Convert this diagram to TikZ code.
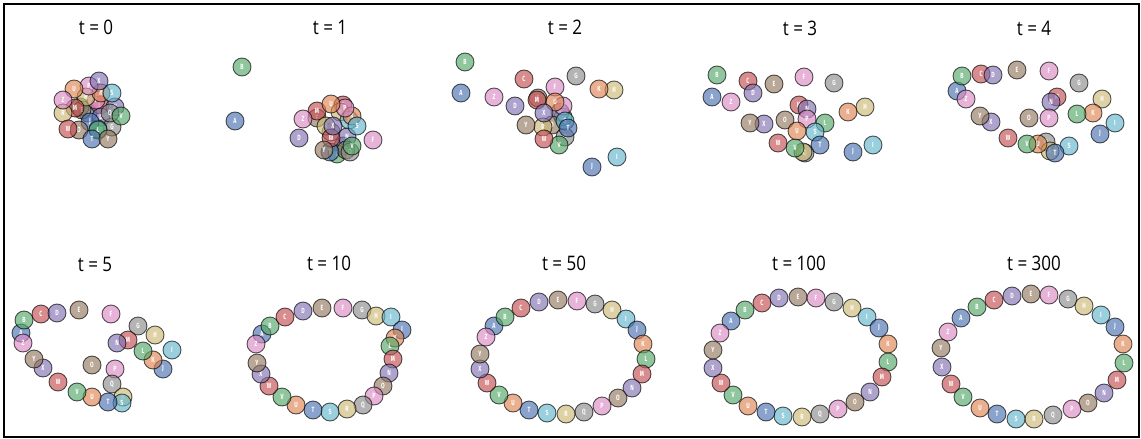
\documentclass[tikz,border=0pt]{standalone}
\usepackage{fontspec}
\setsansfont[FakeStretch=0.85]{Open Sans}
\newfontfamily\beadfont[FakeStretch=0.7]{Fira Sans}
\usepackage{xcolor}
\definecolor{dblue}{HTML}{4C72B0}
\definecolor{dorange}{HTML}{DD8452}
\definecolor{dgreen}{HTML}{55A868}
\definecolor{dred}{HTML}{C44E52}
\definecolor{dpurple}{HTML}{8172B2}
\definecolor{dbrown}{HTML}{937860}
\definecolor{dpink}{HTML}{DA8BC3}
\definecolor{dgray}{HTML}{8C8C8C}
\definecolor{dolive}{HTML}{CCB974}
\definecolor{dcyan}{HTML}{64B5CD}
\colorlet{cA}{dblue}\colorlet{cB}{dgreen}\colorlet{cC}{dred}\colorlet{cD}{dpurple}
\colorlet{cE}{dbrown}\colorlet{cF}{dpink}\colorlet{cG}{dgray}\colorlet{cH}{dolive}
\colorlet{cI}{dcyan}\colorlet{cJ}{dblue}\colorlet{cK}{dorange}\colorlet{cL}{dgreen}
\colorlet{cM}{dred}\colorlet{cN}{dpurple}\colorlet{cO}{dbrown}\colorlet{cP}{dpink}
\colorlet{cQ}{dgray}\colorlet{cR}{dolive}\colorlet{cS}{dcyan}\colorlet{cT}{dblue}
\colorlet{cU}{dorange}\colorlet{cV}{dgreen}\colorlet{cW}{dred}\colorlet{cX}{dpurple}
\colorlet{cY}{dbrown}\colorlet{cZ}{dpink}

\begin{document}
\begin{tikzpicture}[x=1pt,y=-1pt,
bead/.style={circle,draw=black,fill=c#1,opacity=0.65,text opacity=1,text=white,
 line width=0.9pt,minimum size=18pt,inner sep=0pt,
 font=\beadfont\bfseries\fontsize{7.5}{7.5}\selectfont},
stamp/.style={font=\sffamily\fontsize{20}{20}\selectfont,inner sep=0pt}]
\useasboundingbox (0,0) rectangle (1141,439);
\draw[line width=2pt] (4.3,4.3) rectangle (1138.8,436.7);
% t = 0
\node[stamp] (title0) at (96,27) {t = 0};
\foreach \l/\x/\y in {A/88/113,B/80/107,C/100/105,D/101/117,E/82/110,F/96/100,
 G/112/127,H/86/97,I/98/129,J/90/122,K/101/93,L/98/130,M/75/108,N/115/107,
 O/79/130,P/89/86,Q/110/113,R/63/113,S/112/93,T/92/139,U/74/89,V/121/116,
 W/68/129,X/99/81,Y/108/139,Z/63/100}
 \node[bead=\l] (t0\l) at (\x,\y) {\l};
% t = 1
\node[stamp] (title1) at (330,27) {t = 1};
\foreach \l/\x/\y in {A/235/121,B/242/67,C/343/105,D/299/138,E/317/118,F/373/140,
 G/331/132,H/340/112,I/349/120,J/343/146,K/352/116,L/337/154,M/317/111,N/347/137,
 O/346/150,P/345/108,Q/350/152,R/326/126,S/357/126,T/330/152,U/331/104,V/352/146,
 W/331/138,X/333/126,Y/324/150,Z/303/119}
 \node[bead=\l] (t1\l) at (\x,\y) {\l};
% t = 2
\node[stamp] (title2) at (565,27) {t = 2};
\foreach \l/\x/\y in {A/461/93,B/465/62,C/524/79,D/515/106,E/538/98,F/555/87,
 G/576/76,H/614/90,I/617/157,J/592/167,K/599/89,L/563/117,M/537/100,N/560/112,
 O/552/125,P/563/106,Q/565/137,R/543/127,S/565/121,T/568/128,U/555/102,V/559/145,
 W/544/139,X/544/113,Y/526/125,Z/494/97}
 \node[bead=\l] (t2\l) at (\x,\y) {\l};
% t = 3
\node[stamp] (title3) at (800,28) {t = 3};
\foreach \l/\x/\y in {A/712/97,B/717/75,C/748/81,D/753/93,E/774/84,F/804/77,
 G/834/83,H/865/107,I/873/145,J/853/152,K/848/112,L/825/123,M/799/105,N/807/109,
 O/785/120,P/807/119,Q/805/153,R/803/152,S/815/132,T/820/145,U/797/131,V/795/148,
 W/778/143,X/764/124,Y/750/123,Z/731/102}
 \node[bead=\l] (t3\l) at (\x,\y) {\l};
% t = 4
\node[stamp] (title4) at (1034,28) {t = 4};
\foreach \l/\x/\y in {A/957/91,B/962/76,C/981/74,D/993/75,E/1017/70,F/1049/71,
 G/1079/83,H/1102/99,I/1115/123,J/1100/134,K/1093/113,L/1077/114,M/1057/97,N/1051/102,
 O/1029/118,P/1049/118,Q/1046/142,R/1050/151,S/1069/146,T/1055/153,U/1038/144,V/1027/144,
 W/1008/138,X/991/122,Y/980/116,Z/966/99}
 \node[bead=\l] (t4\l) at (\x,\y) {\l};
% t = 5
\node[stamp] (title5) at (95,264) {t = 5};
\foreach \l/\x/\y in {A/21/333,B/24/320,C/41/314,D/57/313,E/79/310,F/111/314,
 G/138/326,H/155/335,I/172/350,J/163/369,K/153/360,L/143/351,M/128/340,N/117/343,
 O/92/365,P/115/369,Q/112/384,R/123/397,S/122/403,T/108/402,U/92/397,V/77/392,
 W/58/382,X/43/368,Y/34/359,Z/23/343}
 \node[bead=\l] (t5\l) at (\x,\y) {\l};
% t = 10
\node[stamp] (title10) at (329,263) {t = 10};
\foreach \l/\x/\y in {A/262/334,B/270/326,C/285/317,D/303/311,E/322/308,F/343/308,
 G/362/310,H/376/316,I/391/317,J/402/330,K/395/338,L/390/346,M/393/359,N/389/373,
 O/383/386,P/374/396,Q/363/405,R/347/409,S/330/412,T/313/410,U/296/405,V/282/397,
 W/269/386,X/261/374,Y/257/363,Z/256/344}
 \node[bead=\l] (t10\l) at (\x,\y) {\l};
% t = 50
\node[stamp] (title50) at (564,263) {t = 50};
\foreach \l/\x/\y in {A/494/326,B/505/317,C/521/308,D/539/302,E/558/300,F/577/301,
 G/595/304,H/612/310,I/626/319,J/637/330,K/643/344,L/646/359,M/642/374,N/632/388,
 O/618/398,P/602/406,Q/584/412,R/566/414,S/547/413,T/529/410,U/513/403,V/499/395,
 W/487/383,X/480/369,Y/480/354,Z/486/337}
 \node[bead=\l] (t50\l) at (\x,\y) {\l};
% t = 100
\node[stamp] (title100) at (799,263) {t = 100};
\foreach \l/\x/\y in {A/731/321,B/745/310,C/762/303,D/779/298,E/798/297,F/816/298,
 G/834/302,H/852/308,I/867/317,J/879/328,K/888/344,L/888/362,M/882/377,N/870/392,
 O/855/402,P/838/409,Q/820/414,R/802/417,S/783/416,T/766/412,U/748/406,V/733/395,
 W/721/383,X/713/368,Y/713/350,Z/720/333}
 \node[bead=\l] (t100\l) at (\x,\y) {\l};
% t = 300
\node[stamp] (title300) at (1034,263) {t = 300};
\foreach \l/\x/\y in {A/961/318,B/977/307,C/994/300,D/1012/296,E/1031/294,F/1049/295,
 G/1068/299,H/1084/306,I/1101/315,J/1115/327,K/1123/344,L/1124/363,M/1117/380,N/1104/393,
 O/1088/403,P/1072/409,Q/1053/415,R/1034/419,S/1016/419,T/997/414,U/980/408,V/963/397,
 W/951/384,X/942/367,Y/941/348,Z/948/332}
 \node[bead=\l] (t300\l) at (\x,\y) {\l};
\end{tikzpicture}
\end{document}
